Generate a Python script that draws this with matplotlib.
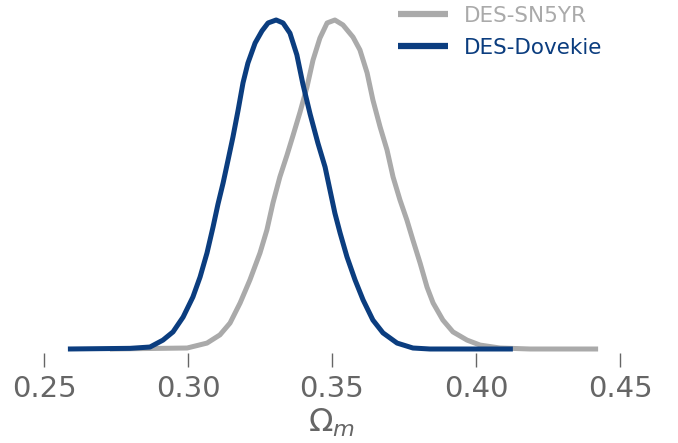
import matplotlib.pyplot as plt

# posterior curves (Omega_m, density relative to peak)
om_dovekie = [0.2583, 0.2799, 0.2868, 0.2913, 0.2948, 0.2983, 0.3017, 0.3042, 0.3066, 0.3087,
              0.3104, 0.3122, 0.3139, 0.3156, 0.3174, 0.3191, 0.3208, 0.3233, 0.3257, 0.3278,
              0.3306, 0.3330, 0.3354, 0.3378, 0.3399, 0.3424, 0.3451, 0.3476, 0.3493, 0.3510,
              0.3528, 0.3552, 0.3580, 0.3608, 0.3642, 0.3677, 0.3726, 0.3781, 0.3840, 0.3910,
              0.4128]
pdf_dovekie = [0.000, 0.002, 0.006, 0.027, 0.052, 0.097, 0.158, 0.219, 0.292, 0.371,
               0.440, 0.505, 0.574, 0.644, 0.726, 0.809, 0.869, 0.930, 0.967, 0.991,
               1.000, 0.991, 0.960, 0.894, 0.805, 0.714, 0.626, 0.553, 0.483, 0.413,
               0.353, 0.280, 0.210, 0.149, 0.088, 0.049, 0.018, 0.003, 0.000, 0.000,
               0.000]

om_sn5yr = [0.2729, 0.2997, 0.3066, 0.3111, 0.3146, 0.3181, 0.3215, 0.3250, 0.3274, 0.3295,
            0.3319, 0.3344, 0.3365, 0.3389, 0.3413, 0.3434, 0.3458, 0.3483, 0.3510, 0.3538,
            0.3573, 0.3597, 0.3622, 0.3642, 0.3667, 0.3691, 0.3712, 0.3736, 0.3760, 0.3781,
            0.3806, 0.3830, 0.3851, 0.3885, 0.3920, 0.3969, 0.4014, 0.4083, 0.4188, 0.4424]
pdf_sn5yr = [0.000, 0.003, 0.018, 0.043, 0.079, 0.140, 0.210, 0.292, 0.362, 0.444,
             0.523, 0.590, 0.650, 0.720, 0.796, 0.878, 0.945, 0.991, 1.000, 0.985,
             0.948, 0.909, 0.839, 0.757, 0.675, 0.605, 0.523, 0.453, 0.392, 0.331,
             0.261, 0.188, 0.140, 0.088, 0.052, 0.027, 0.012, 0.003, 0.000, 0.000]

xticks = [0.25, 0.30, 0.35, 0.40, 0.45]

gray = '#aaaaaa'
blue = '#0b3d7f'
txt = '#666666'

fig = plt.figure(figsize=(6.78, 4.43), dpi=100)
ax = fig.add_axes([44 / 678, 94 / 443, 576 / 678, 329 / 443])

ax.plot(om_sn5yr, pdf_sn5yr, color=gray, lw=3.6, label='DES-SN5YR', clip_on=False,
        solid_joinstyle='round', solid_capstyle='butt')
ax.plot(om_dovekie, pdf_dovekie, color=blue, lw=3.6, label='DES-Dovekie', clip_on=False,
        solid_joinstyle='round', solid_capstyle='butt')

ax.set_xlim(0.25, 0.45)
ax.set_ylim(0, 1.0)
ax.set_xticks(xticks)
ax.set_xticklabels(['%.2f' % t for t in xticks])
ax.set_yticks([])
for s in ax.spines.values():
    s.set_visible(False)
ax.spines['bottom'].set_position(('outward', 3))
ax.tick_params(axis='x', length=10, width=1, color=txt, labelcolor=txt,
               labelsize=21, pad=6)
ax.set_xlabel(r'$\Omega_m$', fontsize=23, color=txt, labelpad=2)

leg = fig.legend(loc='upper left', bbox_to_anchor=(398 / 678, 1 - 6 / 443), frameon=False,
                 fontsize=15.5, handlelength=2.3, handletextpad=0.75, labelspacing=0.55,
                 borderpad=0, borderaxespad=0, labelcolor='linecolor')
for h in leg.get_lines():
    h.set_linewidth(4.5)

fig.savefig('out.png', dpi=100)
